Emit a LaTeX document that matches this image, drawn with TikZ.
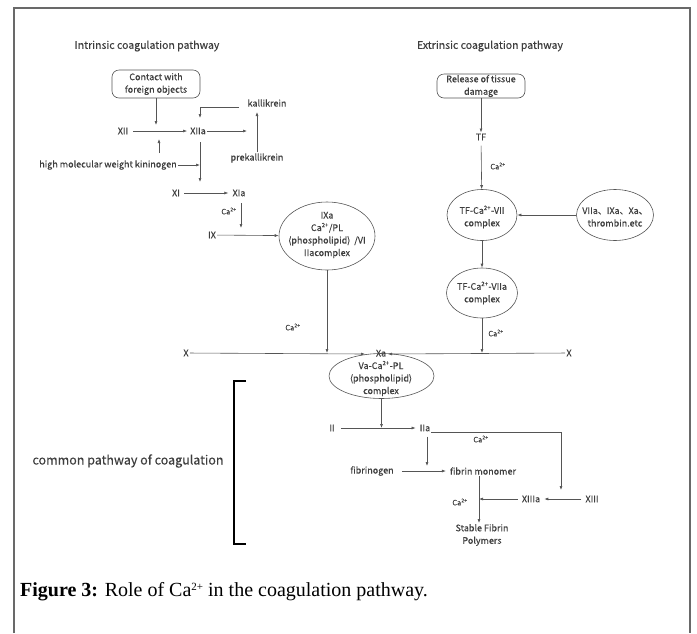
\documentclass[tikz,border=0pt]{standalone}
\usepackage{fontspec}
\setmainfont{Liberation Serif}
\newfontfamily\diagfont{Noto Sans CJK SC}[FakeBold=0.3]
\usetikzlibrary{positioning}
\usetikzlibrary{arrows.meta}
\usetikzlibrary{shapes}
\definecolor{textgray}{RGB}{62,62,62}
\definecolor{linegray}{RGB}{85,85,85}
\definecolor{framegray}{RGB}{105,105,105}
\newcommand{\Caion}{Ca\textsuperscript{2+}}
\tikzset {
        lbl/.style={font=\diagfont\fontsize{9}{12.5}\selectfont, text=textgray, inner sep=1pt, align=center},
        calbl/.style={font=\diagfont\fontsize{7.5}{8}\selectfont, text=textgray, inner sep=0pt},
        titlelbl/.style={font=\diagfont\fontsize{10.5}{12}\selectfont, text=textgray, inner sep=0pt},
        roundbox/.style={lbl, draw=linegray, line width=0.6pt, rounded corners=7pt, inner sep=0pt, minimum width=88pt, minimum height=27pt},
        oval/.style 2 args={ellipse, draw=linegray, line width=0.6pt, inner sep=0pt, minimum width=#1, minimum height=#2},
        arr/.style={draw=linegray, line width=0.6pt, -{Latex[length=4pt,width=3pt]}},
        default/.style={}
}
\begin{document}
\begin{tikzpicture}[x=1pt, y=-1pt]
            \useasboundingbox (0,0) rectangle (697,633);
            % frame
            \draw[framegray, line width=1.3pt] (14,633) -- (14,8) -- (690,8) -- (690,633);
            % intrinsic pathway
            \node[titlelbl] (IntrTitle) at (147,46) {Intrinsic coagulation pathway};
            \node[roundbox, minimum height=28pt] (Contact) at (156,84) {Contact with\\foreign objects};
            \node[lbl] (XII) at (123,131) {XII};
            \node[lbl] (XIIa) at (198,131) {XIIa};
            \node[lbl] (Kallikrein) at (267,103) {kallikrein};
            \node[lbl] (Prekallikrein) at (257,158) {prekallikrein};
            \node[lbl] (HMWK) at (108,165) {high molecular weight kininogen};
            \node[lbl] (XI) at (176,193) {XI};
            \node[lbl] (XIa) at (239,193) {XIa};
            \node[calbl] (CaXIa) at (229,211) {\Caion};
            \node[lbl] (IX) at (212,235) {IX};
            \node[oval={96pt}{68pt}] (IXaOval) at (327,236) {};
            \node[lbl] (IXaText) at (327,235) {IXa\\\Caion/PL\\(phospholipid)\ \ /VI\\IIacomplex};
            \coordinate (ContactIn) at (156,125);
            \coordinate (KininogenTop) at (159,153);
            \coordinate (KininogenIn) at (159,139);
            \coordinate (KalliStart) at (239,107);
            \coordinate (XIIaTop) at (200,118);
            \coordinate (XIIaOut) at (247,131);
            \coordinate (PrekUp) at (257,112);
            \coordinate (XIIaStart) at (200,142);
            \coordinate (XIIaDown) at (200,182);
            \coordinate (XIaStart) at (241,203);
            \coordinate (XIaDown) at (241,228);
            \draw[arr] (Contact) -- (ContactIn);
            \draw[arr, shorten <=4pt, shorten >=2pt] (XII) -- (XIIa);
            \draw[arr] (KininogenTop) -- (KininogenIn);
            \draw[arr] (KalliStart) -| (XIIaTop);
            \draw[arr] (XIIa) -- (XIIaOut);
            \draw[arr] (Prekallikrein) -- (PrekUp);
            \draw[arr] (XIIaStart) -- (XIIaDown);
            \draw[arr] (HMWK.east) -- (HMWK.east -| XIIaDown);
            \draw[arr, shorten <=3pt, shorten >=3pt] (XI) -- (XIa);
            \draw[arr] (XIaStart) -- (XIaDown);
            \draw[arr] (IX) -- (IXaOval);
            % extrinsic pathway
            \node[titlelbl] (ExtrTitle) at (490,46) {Extrinsic coagulation pathway};
            \node[roundbox, minimum height=24pt] (Release) at (481,86) {Release of tissue\\damage};
            \node[lbl] (TF) at (481,137) {TF};
            \node[calbl] (CaTF) at (498,166) {\Caion};
            \node[oval={70pt}{51pt}] (TFVIIOval) at (482,215) {};
            \node[lbl] (TFVIIText) at (482,217) {TF-\Caion-VII\\complex};
            \node[oval={77pt}{51pt}] (ThrombinOval) at (615,215) {};
            \node[lbl] (ThrombinText) at (615,217) {VIIa、IXa、Xa、\\thrombin.etc};
            \node[oval={71pt}{50pt}] (TFVIIaOval) at (482,293) {};
            \node[lbl] (TFVIIaText) at (482,293) {TF-\Caion-VIIa\\complex};
            \node[calbl] (CaTFVIIa) at (496,333) {\Caion};
            \draw[arr] (Release) -- (TF);
            \draw[arr, shorten <=4pt] (TF) -- (TFVIIOval);
            \draw[arr] (ThrombinOval) -- (TFVIIOval);
            \draw[arr] (TFVIIOval) -- (TFVIIaOval);
            % factor X activation
            \node[lbl] (XLeft) at (186,353) {X};
            \node[lbl] (XRight) at (569,353) {X};
            \node[calbl] (CaIXa) at (293,327) {\Caion};
            \node[oval={105pt}{45pt}] (XaOval) at (381.5,376) {};
            \node[lbl] (XaText) at (381,373) {Xa\\Va-\Caion-PL\\(phospholipid)\\complex};
            \coordinate (XaInL) at (365,354);
            \coordinate (XaInR) at (388,354);
            \draw[arr] (XLeft) -- (XaInL);
            \draw[arr] (XRight) -- (XaInR);
            \draw[arr] (IXaOval.south) -- (IXaOval.south |- XLeft);
            \draw[arr] (TFVIIaOval.south) -- (TFVIIaOval.south |- XRight);
            % common pathway
            \node[font=\diagfont\fontsize{12.5}{14}\selectfont, text=textgray, inner sep=0pt] (CommonTitle) at (128,461) {common pathway of coagulation};
            \draw[line width=2pt] (246,381) -- (234,381) -- (234,544) -- (246,544);
            \node[lbl] (II) at (332,428) {II};
            \node[lbl] (IIa) at (425,428) {IIa};
            \node[calbl] (CaIIa) at (481,439) {\Caion};
            \node[lbl] (Fibrinogen) at (372,471) {fibrinogen};
            \node[lbl] (FibrinMono) at (483,471) {fibrin monomer};
            \node[lbl] (XIIIa) at (531,499) {XIIIa};
            \node[lbl] (XIII) at (592,499) {XIII};
            \node[calbl] (CaXIIIa) at (460,502) {\Caion};
            \node[lbl] (StableFibrin) at (482,535) {Stable Fibrin\\Polymers};
            \coordinate (XIIIaTip) at (561,490);
            \coordinate (IIaDownTip) at (427,466);
            \coordinate (MonoDown) at (479,476);
            \coordinate (StableTop) at (479,523);
            \draw[arr] (XaOval.south) -- (XaOval.south |- II);
            \draw[arr, shorten <=5pt, shorten >=3pt] (II) -- (IIa);
            \draw[arr] ([yshift=-4pt]IIa.east) -| (XIIIaTip);
            \draw[arr, shorten <=4pt] (IIa.south -| IIaDownTip) -- (IIaDownTip);
            \draw[arr, shorten <=7pt, shorten >=3pt] (Fibrinogen) -- (FibrinMono);
            \draw[arr] (MonoDown) -- (StableTop);
            \draw[arr, shorten <=3pt] (XIIIa) -- (XIIIa -| MonoDown);
            \draw[arr, shorten <=3pt, shorten >=3pt] (XIII) -- (XIIIa);
            % caption
            \node[anchor=west, font=\fontsize{20}{24}\selectfont, inner sep=0pt] (Caption) at (20,592) {\textbf{Figure 3:} Role of Ca\raisebox{0.75ex}{\fontsize{11}{11}\selectfont 2+} in the coagulation pathway.};
        \end{tikzpicture}
\end{document}
